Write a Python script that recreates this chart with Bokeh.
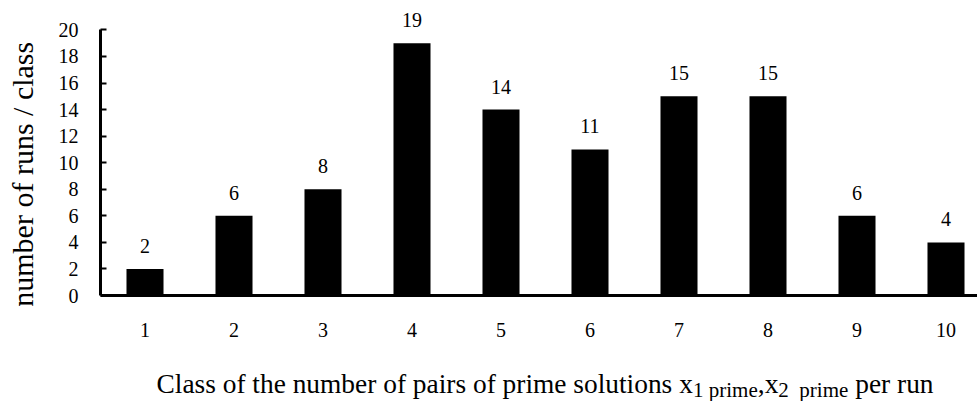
import math
from bokeh.plotting import figure
from bokeh.models import ColumnDataSource, Range1d, FixedTicker, LabelSet, Label
from bokeh.embed import file_html
from bokeh.resources import INLINE

# ---- data ----
classes = [1, 2, 3, 4, 5, 6, 7, 8, 9, 10]
runs = [2, 6, 8, 19, 14, 11, 15, 15, 6, 4]
y_ticks = [0, 2, 4, 6, 8, 10, 12, 14, 16, 18, 20]
y_title = "number  of runs / class"
x_title_parts = [
    ("Class of the number of pairs of prime solutions x", "main"),
    ("1 prime", "sub"),
    (",x", "main"),
    ("2", "sub"),
    ("  prime", "sub"),
    (" per run", "main"),
]

FONT = "Liberation Serif"
W, H = 977, 401
PX_X = 89.0      # pixels per class
PX_Y = 13.28     # pixels per run
AX_X, AX_Y = 100, 295   # pixel position of axes

x0 = 0.5 - AX_X / PX_X
y0 = -(H - AX_Y) / PX_Y
src = ColumnDataSource(dict(x=classes, top=runs, lab=[str(v) for v in runs]))

p = figure(width=W, height=H, output_backend="svg", toolbar_location=None,
           x_range=Range1d(x0, x0 + W / PX_X), y_range=Range1d(y0, y0 + H / PX_Y),
           min_border=0)
p.outline_line_color = None
p.xgrid.visible = False
p.ygrid.visible = False
p.background_fill_color = "white"
p.border_fill_color = "white"

p.vbar(x="x", top="top", bottom=0, width=0.416, source=src,
       fill_color="black", line_color=None)

labels = LabelSet(x="x", y="top", text="lab", source=src, y_offset=16,
                  text_align="center", text_baseline="alphabetic",
                  text_font=FONT, text_font_size="20px", text_color="black")
p.add_layout(labels)

# y axis
ya = p.yaxis[0]
ya.fixed_location = 0.5
ya.ticker = FixedTicker(ticks=y_ticks)
ya.bounds = (0, 20)
ya.axis_line_width = 3
ya.axis_line_color = "black"
ya.major_tick_in = 6
ya.major_tick_out = 0
ya.major_tick_line_width = 2
ya.minor_tick_line_color = None
ya.major_label_standoff = 22
ya.major_label_text_font = FONT
ya.major_label_text_font_size = "20px"
ya.major_label_text_color = "black"

# x axis
xa = p.xaxis[0]
xa.fixed_location = 0
xa.ticker = FixedTicker(ticks=classes)
xa.bounds = (0.5, x0 + W / PX_X)
xa.axis_line_width = 3
xa.axis_line_color = "black"
xa.major_tick_in = 0
xa.major_tick_out = 0
xa.minor_tick_line_color = None
xa.major_label_standoff = 27
xa.major_label_text_font = FONT
xa.major_label_text_font_size = "20px"
xa.major_label_text_color = "black"

# y title (screen units: x from left, y up from bottom)
p.add_layout(Label(x=22, y=H - 170, x_units="screen", y_units="screen",
                   text=y_title, angle=math.pi / 2, text_align="center",
                   text_baseline="middle", text_font=FONT,
                   text_font_size="30px", text_color="black"))

# x title with subscripts, placed with Times metrics
widths = {" ": 250, ",": 250, "/": 278, "C": 667, "a": 444, "b": 500, "e": 444,
          "f": 333, "h": 500, "i": 278, "l": 278, "m": 778, "n": 500, "o": 500,
          "p": 500, "r": 333, "s": 389, "t": 278, "u": 500, "x": 500}
for d in "0123456789":
    widths[d] = 500

def tw(s, size):
    return sum(widths.get(c, 500) for c in s) * size / 1000.0

MAIN, SUB = 27.4, 21
cx = 156.0
main_base = 383
sub_base = 389
for txt, kind in x_title_parts:
    size = MAIN if kind == "main" else SUB
    base = main_base if kind == "main" else sub_base
    lead = len(txt) - len(txt.lstrip(" "))
    cx += tw(" " * lead, size)
    core = txt.strip(" ")
    p.add_layout(Label(x=cx, y=H - base, x_units="screen", y_units="screen",
                       text=core, text_align="left", text_baseline="alphabetic",
                       text_font=FONT, text_font_size=f"{size}px", text_color="black"))
    cx += tw(core, size)

open("out.html", "w").write(file_html(p, INLINE))
